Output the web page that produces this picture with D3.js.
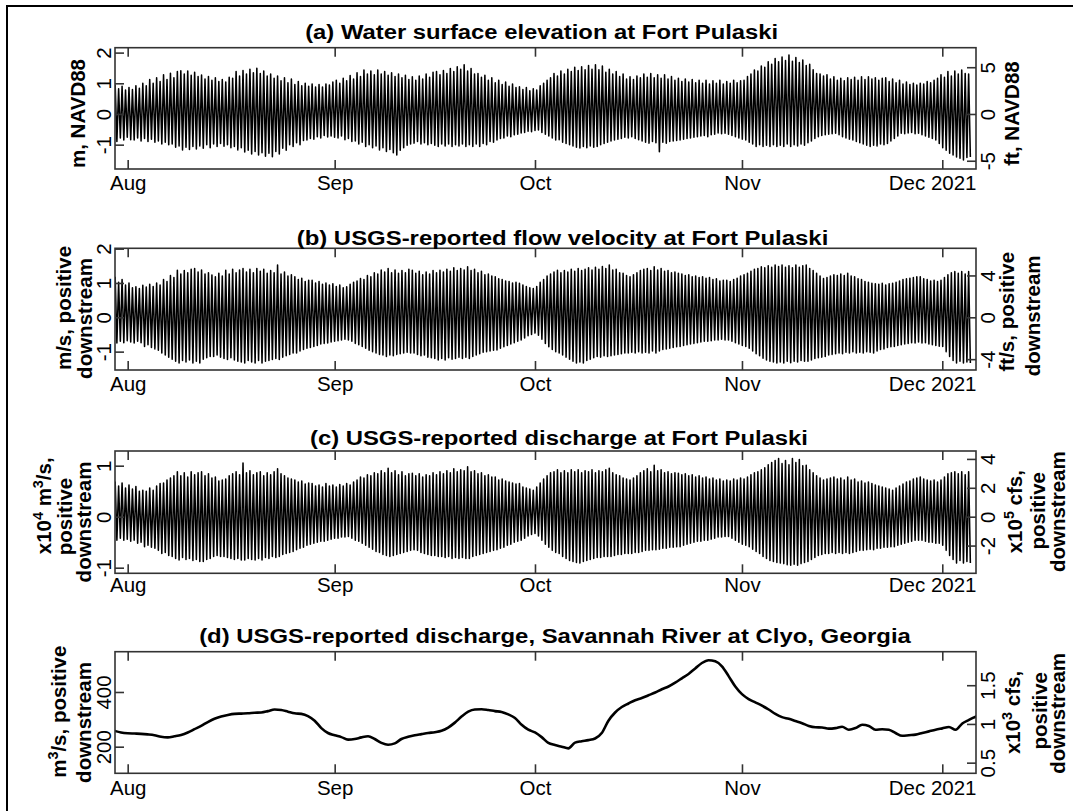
<!DOCTYPE html>
<html>
<head>
<meta charset="utf-8">
<script src="https://cdn.jsdelivr.net/npm/d3@7"></script>
<style>
  body { margin: 0; background: #fff; }
  svg { display: block; font-family: "Liberation Sans", Arial, sans-serif; }
</style>
</head>
<body>
<svg id="chart" width="1073" height="811"></svg>
<script>
// ---- time axis ----
const monthTickDates = ["2021-08-01", "2021-09-01", "2021-10-01", "2021-11-01", "2021-12-01"];
const monthTickLabels = ["Aug", "Sep", "Oct", "Nov", "Dec 2021"];

// ---- tidal records at Fort Pulaski: one high and one low per tidal cycle ----
const tideStart = "2021-07-30T03:00:00Z";
const tideCycleHours = 12.42;

// (a) water surface elevation, m NAVD88
const elevHigh = [
  0.95, 0.82, 0.90, 0.78, 0.86, 0.80, 0.92, 0.84, 1.00, 0.92,
  1.12, 1.00, 1.18, 1.06, 1.28, 1.12, 1.33, 1.18, 1.38, 1.41,
  1.30, 1.40, 1.26, 1.36, 1.22, 1.27, 1.14, 1.22, 1.10, 1.18,
  1.06, 1.12, 1.04, 1.20, 1.16, 1.38, 1.24, 1.42, 1.30, 1.46,
  1.34, 1.49, 1.32, 1.40, 1.24, 1.30, 1.16, 1.24, 1.08, 1.18,
  1.02, 1.14, 0.96, 1.06, 0.92, 1.00, 0.90, 0.98, 0.88, 0.96,
  0.88, 0.98, 0.94, 1.04, 1.10, 1.00, 1.16, 1.08, 1.25, 1.14,
  1.34, 1.22, 1.43, 1.30, 1.40, 1.28, 1.43, 1.30, 1.38, 1.26,
  1.34, 1.22, 1.30, 1.18, 1.26, 1.12, 1.21, 1.10, 1.24, 1.14,
  1.30, 1.20, 1.36, 1.38, 1.28, 1.42, 1.32, 1.48, 1.38, 1.54,
  1.46, 1.60, 1.40, 1.48, 1.30, 1.32, 1.20, 1.26, 1.10, 1.18,
  1.02, 1.10, 0.96, 1.04, 0.90, 0.98, 0.86, 0.89, 0.80, 0.86,
  0.76, 0.82, 0.78, 0.92, 1.00, 1.10, 1.18, 1.32, 1.24, 1.40,
  1.30, 1.46, 1.38, 1.52, 1.42, 1.54, 1.44, 1.58, 1.46, 1.60,
  1.44, 1.56, 1.36, 1.46, 1.30, 1.38, 1.22, 1.30, 1.14, 1.21,
  1.12, 1.24, 1.18, 1.30, 1.20, 1.32, 1.18, 1.28, 1.16, 1.28,
  1.14, 1.22, 1.10, 1.16, 1.06, 1.14, 1.04, 1.12, 1.02, 1.10,
  1.00, 1.10, 0.98, 1.08, 1.00, 1.10, 0.98, 1.06, 1.00, 1.10,
  1.02, 1.08, 1.10, 1.22, 1.30, 1.43, 1.40, 1.56, 1.52, 1.70,
  1.62, 1.81, 1.70, 1.86, 1.74, 1.92, 1.72, 1.84, 1.68, 1.76,
  1.58, 1.62, 1.44, 1.32, 1.30, 1.24, 1.28, 1.14, 1.21, 1.10,
  1.16, 1.08, 1.18, 1.12, 1.20, 1.10, 1.21, 1.12, 1.21, 1.14,
  1.18, 1.10, 1.16, 1.18, 1.06, 1.14, 1.02, 1.10, 0.98, 1.04,
  0.96, 1.00, 0.94, 1.00, 0.98, 1.06, 1.02, 1.10, 1.16, 1.28,
  1.20, 1.38, 1.24, 1.40, 1.30, 1.43, 1.32, 1.30
];
const elevLow = [
  -0.90, -0.78, -0.85, -0.76, -0.84, -0.85, -0.78, -0.88, -0.80, -0.90,
  -0.82, -0.92, -0.88, -0.98, -0.92, -1.00, -0.98, -1.08, -1.04, -1.17,
  -1.08, -1.16, -1.06, -1.14, -1.04, -1.12, -1.00, -1.10, -0.98, -1.06,
  -0.96, -1.05, -1.00, -1.10, -1.06, -1.17, -1.10, -1.24, -1.18, -1.30,
  -1.22, -1.34, -1.26, -1.38, -1.28, -1.39, -1.22, -1.30, -1.12, -1.18,
  -1.00, -1.06, -0.94, -1.00, -0.86, -0.85, -0.80, -0.82, -0.74, -0.78,
  -0.70, -0.75, -0.72, -0.76, -0.78, -0.72, -0.84, -0.80, -0.90, -0.88,
  -0.98, -0.92, -1.06, -1.00, -1.10, -1.04, -1.17, -1.10, -1.22, -1.16,
  -1.26, -1.34, -1.18, -1.10, -1.02, -0.98, -0.95, -0.90, -0.98, -0.94,
  -1.00, -0.96, -1.02, -1.06, -0.98, -1.04, -0.98, -1.06, -1.00, -1.04,
  -0.98, -1.06, -1.00, -1.06, -0.98, -1.06, -0.96, -1.00, -0.90, -0.92,
  -0.85, -0.80, -0.78, -0.72, -0.74, -0.68, -0.66, -0.62, -0.60, -0.56,
  -0.58, -0.54, -0.52, -0.60, -0.66, -0.72, -0.78, -0.85, -0.84, -0.92,
  -0.96, -1.00, -1.04, -1.08, -1.11, -1.06, -1.10, -1.04, -1.08, -1.06,
  -1.00, -0.96, -0.92, -0.88, -0.85, -0.82, -0.80, -0.76, -0.78, -0.74,
  -0.80, -0.84, -0.88, -0.92, -0.95, -0.90, -0.94, -1.23, -0.92, -0.95,
  -0.90, -0.88, -0.86, -0.85, -0.82, -0.80, -0.78, -0.76, -0.74, -0.72,
  -0.70, -0.74, -0.68, -0.66, -0.62, -0.64, -0.63, -0.66, -0.70, -0.74,
  -0.78, -0.82, -0.85, -0.92, -0.98, -1.06, -1.00, -1.06, -1.02, -1.06,
  -1.00, -1.06, -1.02, -1.06, -0.98, -1.06, -1.00, -1.04, -0.98, -1.02,
  -0.94, -0.88, -0.80, -0.74, -0.70, -0.68, -0.66, -0.64, -0.63, -0.68,
  -0.74, -0.78, -0.82, -0.85, -0.90, -0.94, -0.98, -1.02, -1.06, -1.02,
  -1.04, -0.98, -1.00, -0.96, -0.88, -0.80, -0.72, -0.63, -0.64, -0.62,
  -0.60, -0.64, -0.63, -0.68, -0.72, -0.76, -0.80, -0.85, -0.96, -1.10,
  -1.18, -1.28, -1.34, -1.40, -1.44, -1.50, -1.42, -1.40
];

// (b) flow velocity, m/s, positive downstream
const velHigh = [
  1.18, 1.02, 1.10, 0.94, 1.00, 0.86, 0.89, 0.84, 0.93, 0.88,
  0.96, 0.90, 1.00, 0.94, 1.10, 1.04, 1.22, 1.16, 1.37, 1.26,
  1.36, 1.30, 1.40, 1.42, 1.32, 1.38, 1.26, 1.30, 1.23, 1.18,
  1.28, 1.20, 1.37, 1.26, 1.40, 1.30, 1.38, 1.42, 1.32, 1.40,
  1.30, 1.42, 1.34, 1.40, 1.28, 1.36, 1.30, 1.52, 1.26, 1.32,
  1.20, 1.24, 1.18, 1.10, 1.14, 1.04, 1.08, 1.08, 1.00, 1.04,
  0.96, 1.00, 0.94, 0.98, 0.90, 0.94, 0.86, 0.89, 0.96, 1.02,
  1.06, 1.13, 1.10, 1.22, 1.18, 1.30, 1.26, 1.38, 1.32, 1.42,
  1.30, 1.38, 1.28, 1.36, 1.30, 1.40, 1.37, 1.28, 1.34, 1.24,
  1.32, 1.26, 1.36, 1.30, 1.37, 1.32, 1.40, 1.34, 1.44, 1.36,
  1.42, 1.38, 1.47, 1.36, 1.40, 1.30, 1.34, 1.24, 1.26, 1.20,
  1.18, 1.12, 1.10, 1.06, 1.04, 1.00, 1.02, 0.99, 0.94, 0.90,
  0.86, 0.84, 0.90, 1.02, 1.10, 1.20, 1.26, 1.32, 1.37, 1.30,
  1.36, 1.32, 1.40, 1.34, 1.42, 1.36, 1.40, 1.44, 1.38, 1.46,
  1.40, 1.48, 1.42, 1.52, 1.38, 1.40, 1.30, 1.28, 1.22, 1.18,
  1.24, 1.30, 1.36, 1.40, 1.42, 1.36, 1.47, 1.38, 1.42, 1.34,
  1.36, 1.30, 1.32, 1.28, 1.26, 1.22, 1.24, 1.18, 1.20, 1.16,
  1.18, 1.14, 1.16, 1.10, 1.12, 1.06, 1.08, 1.08, 1.04, 1.10,
  1.14, 1.20, 1.24, 1.28, 1.34, 1.40, 1.42, 1.47, 1.44, 1.50,
  1.46, 1.52, 1.48, 1.52, 1.46, 1.50, 1.44, 1.52, 1.46, 1.50,
  1.52, 1.42, 1.36, 1.28, 1.20, 1.13, 1.16, 1.20, 1.24, 1.22,
  1.26, 1.22, 1.28, 1.20, 1.18, 1.12, 1.10, 1.04, 1.02, 0.99,
  0.98, 0.96, 0.99, 0.94, 0.98, 0.99, 1.02, 1.06, 1.10, 1.12,
  1.14, 1.16, 1.18, 1.18, 1.12, 1.10, 1.06, 1.08, 1.04, 1.08,
  1.16, 1.24, 1.30, 1.33, 1.28, 1.33, 1.26, 1.33
];
const velLow = [
  -0.75, -0.70, -0.74, -0.68, -0.72, -0.75, -0.70, -0.74, -0.85, -0.80,
  -0.88, -0.92, -0.96, -1.04, -1.10, -1.16, -1.22, -1.28, -1.33, -1.26,
  -1.30, -1.24, -1.33, -1.28, -1.33, -1.22, -1.18, -1.14, -1.14, -1.10,
  -1.16, -1.20, -1.23, -1.18, -1.24, -1.28, -1.30, -1.33, -1.26, -1.30,
  -1.33, -1.26, -1.33, -1.28, -1.26, -1.23, -1.20, -1.23, -1.16, -1.12,
  -1.08, -1.04, -1.04, -0.98, -0.94, -0.90, -0.88, -0.85, -0.82, -0.78,
  -0.76, -0.75, -0.72, -0.70, -0.68, -0.66, -0.64, -0.66, -0.70, -0.76,
  -0.80, -0.85, -0.90, -0.96, -1.00, -1.04, -1.08, -1.10, -1.14, -1.10,
  -1.12, -1.08, -1.06, -1.04, -1.02, -1.04, -1.04, -1.08, -1.12, -1.10,
  -1.16, -1.18, -1.20, -1.24, -1.20, -1.24, -1.18, -1.22, -1.20, -1.16,
  -1.20, -1.16, -1.20, -1.14, -1.10, -1.06, -1.02, -1.00, -0.98, -0.96,
  -0.95, -0.90, -0.86, -0.82, -0.78, -0.74, -0.70, -0.66, -0.60, -0.54,
  -0.50, -0.46, -0.52, -0.64, -0.76, -0.86, -0.94, -1.00, -1.04, -1.10,
  -1.16, -1.22, -1.28, -1.33, -1.30, -1.33, -1.26, -1.22, -1.18, -1.14,
  -1.16, -1.12, -1.14, -1.12, -1.10, -1.08, -1.06, -1.04, -1.04, -1.02,
  -1.04, -1.00, -1.04, -1.02, -1.04, -0.98, -1.04, -0.98, -0.94, -0.92,
  -0.90, -0.88, -0.86, -0.85, -0.82, -0.80, -0.78, -0.76, -0.74, -0.72,
  -0.70, -0.70, -0.68, -0.66, -0.66, -0.64, -0.66, -0.66, -0.70, -0.74,
  -0.78, -0.82, -0.85, -0.90, -0.98, -1.06, -1.12, -1.19, -1.24, -1.28,
  -1.30, -1.33, -1.30, -1.33, -1.28, -1.32, -1.28, -1.30, -1.26, -1.28,
  -1.28, -1.24, -1.20, -1.18, -1.16, -1.14, -1.10, -1.08, -1.06, -1.04,
  -1.06, -1.02, -1.04, -1.00, -1.04, -1.02, -1.04, -1.00, -1.02, -1.04,
  -0.98, -0.94, -0.92, -0.88, -0.86, -0.85, -0.82, -0.80, -0.78, -0.76,
  -0.74, -0.75, -0.72, -0.75, -0.74, -0.78, -0.80, -0.82, -0.84, -0.85,
  -1.00, -1.14, -1.26, -1.33, -1.28, -1.33, -1.30, -1.33
];

// (c) discharge, x10^4 m^3/s, positive downstream
const flowHigh = [
  0.69, 0.60, 0.66, 0.56, 0.62, 0.54, 0.59, 0.50, 0.52, 0.50,
  0.56, 0.52, 0.60, 0.65, 0.66, 0.72, 0.76, 0.80, 0.88, 0.80,
  0.86, 0.78, 0.88, 0.82, 0.86, 0.88, 0.80, 0.84, 0.76, 0.78,
  0.70, 0.72, 0.74, 0.80, 0.84, 0.88, 0.82, 1.05, 0.86, 0.90,
  0.82, 0.86, 0.88, 0.80, 0.86, 0.82, 0.88, 0.94, 0.84, 0.80,
  0.76, 0.74, 0.72, 0.68, 0.70, 0.64, 0.66, 0.65, 0.60, 0.62,
  0.58, 0.65, 0.60, 0.62, 0.58, 0.63, 0.60, 0.65, 0.62, 0.68,
  0.72, 0.78, 0.76, 0.82, 0.80, 0.86, 0.84, 0.90, 0.86, 0.95,
  0.86, 0.90, 0.82, 0.88, 0.80, 0.84, 0.85, 0.80, 0.84, 0.78,
  0.82, 0.80, 0.86, 0.82, 0.88, 0.84, 0.90, 0.86, 0.94, 0.88,
  0.92, 0.90, 0.98, 0.88, 0.90, 0.84, 0.86, 0.80, 0.82, 0.78,
  0.78, 0.72, 0.74, 0.70, 0.68, 0.66, 0.64, 0.65, 0.58, 0.56,
  0.54, 0.52, 0.58, 0.66, 0.74, 0.80, 0.86, 0.88, 0.92, 0.86,
  0.90, 0.86, 0.92, 0.88, 0.92, 0.86, 0.90, 0.88, 0.92, 0.86,
  0.90, 0.88, 0.92, 0.95, 0.86, 0.82, 0.80, 0.76, 0.74, 0.72,
  0.76, 0.80, 0.86, 0.90, 0.94, 0.88, 1.01, 0.90, 0.92, 0.86,
  0.88, 0.84, 0.86, 0.85, 0.82, 0.84, 0.80, 0.82, 0.78, 0.80,
  0.76, 0.78, 0.74, 0.76, 0.72, 0.74, 0.70, 0.72, 0.70, 0.74,
  0.72, 0.76, 0.74, 0.78, 0.82, 0.86, 0.88, 0.92, 0.96, 1.02,
  1.06, 1.10, 1.14, 1.04, 1.10, 1.02, 1.14, 1.06, 1.12, 1.00,
  1.01, 0.92, 0.86, 0.80, 0.76, 0.72, 0.74, 0.76, 0.78, 0.74,
  0.76, 0.72, 0.78, 0.72, 0.74, 0.68, 0.70, 0.66, 0.68, 0.65,
  0.62, 0.60, 0.58, 0.56, 0.54, 0.52, 0.56, 0.60, 0.64, 0.68,
  0.70, 0.74, 0.76, 0.78, 0.74, 0.72, 0.70, 0.72, 0.68, 0.72,
  0.78, 0.84, 0.86, 0.88, 0.84, 0.88, 0.82, 0.88
];
const flowLow = [
  -0.46, -0.42, -0.46, -0.44, -0.48, -0.46, -0.52, -0.50, -0.59, -0.56,
  -0.60, -0.62, -0.66, -0.72, -0.70, -0.76, -0.78, -0.82, -0.85, -0.80,
  -0.84, -0.82, -0.86, -0.84, -0.88, -0.88, -0.84, -0.82, -0.78, -0.76,
  -0.78, -0.78, -0.80, -0.82, -0.84, -0.82, -0.85, -0.85, -0.82, -0.84,
  -0.85, -0.82, -0.85, -0.80, -0.82, -0.78, -0.80, -0.78, -0.74, -0.72,
  -0.70, -0.68, -0.65, -0.62, -0.60, -0.56, -0.54, -0.52, -0.50, -0.48,
  -0.48, -0.46, -0.44, -0.42, -0.42, -0.40, -0.40, -0.39, -0.42, -0.46,
  -0.48, -0.52, -0.56, -0.60, -0.64, -0.68, -0.70, -0.74, -0.76, -0.78,
  -0.76, -0.74, -0.72, -0.70, -0.68, -0.66, -0.65, -0.66, -0.70, -0.72,
  -0.74, -0.76, -0.76, -0.78, -0.78, -0.80, -0.78, -0.82, -0.80, -0.82,
  -0.80, -0.82, -0.82, -0.78, -0.76, -0.74, -0.72, -0.70, -0.68, -0.66,
  -0.65, -0.62, -0.60, -0.56, -0.54, -0.50, -0.48, -0.46, -0.42, -0.38,
  -0.35, -0.33, -0.38, -0.46, -0.54, -0.60, -0.66, -0.70, -0.72, -0.78,
  -0.82, -0.86, -0.88, -0.90, -0.91, -0.88, -0.86, -0.84, -0.82, -0.80,
  -0.80, -0.78, -0.78, -0.78, -0.76, -0.74, -0.74, -0.72, -0.72, -0.72,
  -0.70, -0.70, -0.68, -0.66, -0.66, -0.65, -0.65, -0.64, -0.62, -0.62,
  -0.60, -0.60, -0.59, -0.59, -0.56, -0.54, -0.52, -0.50, -0.48, -0.48,
  -0.46, -0.46, -0.44, -0.42, -0.40, -0.40, -0.39, -0.39, -0.42, -0.46,
  -0.50, -0.54, -0.56, -0.59, -0.64, -0.68, -0.72, -0.78, -0.82, -0.86,
  -0.88, -0.90, -0.91, -0.92, -0.94, -0.95, -0.93, -0.95, -0.92, -0.90,
  -0.88, -0.84, -0.80, -0.76, -0.74, -0.72, -0.72, -0.70, -0.72, -0.70,
  -0.72, -0.70, -0.72, -0.70, -0.68, -0.66, -0.66, -0.65, -0.64, -0.65,
  -0.62, -0.62, -0.60, -0.60, -0.59, -0.59, -0.56, -0.54, -0.52, -0.50,
  -0.48, -0.46, -0.46, -0.46, -0.48, -0.50, -0.50, -0.52, -0.52, -0.56,
  -0.66, -0.76, -0.84, -0.91, -0.86, -0.91, -0.88, -0.91
];

// (d) Savannah River at Clyo, daily discharge, m^3/s
const clyoStart = "2021-07-30T00:00:00Z";
const clyoFlow = [
  258, 252, 249, 248, 247, 245, 242, 236, 234, 238,
  243, 252, 264, 276, 290, 302, 310, 316, 320, 321,
  322, 324, 325, 330, 336, 334, 328, 322, 320, 312,
  295, 268, 250, 242, 235, 226, 228, 234, 238, 228,
  214, 207, 212, 228, 236, 242, 246, 250, 253, 258,
  270, 288, 310, 328, 336, 337, 334, 330, 327, 318,
  305, 280, 262, 252, 235, 214, 206, 200, 194, 215,
  220, 224, 230, 250, 295, 325, 345, 358, 370, 378,
  388, 398, 410, 420, 434, 450, 466, 486, 506, 516,
  512, 494, 458, 420, 392, 374, 362, 350, 336, 320,
  308, 302, 294, 286, 276, 271, 270, 266, 268, 273,
  262, 268, 280, 276, 262, 264, 262, 250, 240, 242,
  244, 250, 256, 262, 267, 272, 262, 285, 298, 310,
  322
];

// ---- axis ticks ----
const elevTicksM = [-1, 0, 1, 2];
const elevTicksFt = [-5, 0, 5];
const velTicksMs = [-1, 0, 1, 2];
const velTicksFts = [-4, 0, 4];
const flowTicksM3s = [-1, 0, 1];
const flowTicksCfs = [-2, 0, 2, 4];
const clyoTicksM3s = [200, 400];
const clyoTicksCfs = [0.5, 1, 1.5];

// unit conversions (right axis value -> left axis units)
const FT = 0.3048;
const CFS = 0.0283168;

// ---------------------------------------------------------------
const svg = d3.select("#chart");
const W = 1073, H = 811;
svg.append("rect").attr("width", W).attr("height", H).attr("fill", "#fff");
// page frame (its right and bottom edges fall outside the page)
svg.append("rect")
  .attr("x", 7).attr("y", 6).attr("width", 1075).attr("height", 815)
  .attr("fill", "none").attr("stroke", "#000").attr("stroke-width", 2);

const parseDay = d3.utcParse("%Y-%m-%d");
const tickDates = monthTickDates.map(parseDay);
const x = d3.scaleUtc()
  .domain([Date.UTC(2021, 6, 30, 2, 24), Date.UTC(2021, 11, 6, 1, 12)])
  .range([115, 976]);

function tideSeries(highs, lows) {
  const t0 = Date.parse(tideStart);
  const step = tideCycleHours * 3600e3;
  const out = [];
  highs.forEach((h, k) => {
    out.push({ t: new Date(t0 + k * step), v: h });
    if (k < lows.length) out.push({ t: new Date(t0 + (k + 0.5) * step), v: lows[k] });
  });
  return out;
}
function dailySeries(start, values) {
  const t0 = Date.parse(start);
  return values.map((v, i) => ({ t: new Date(t0 + i * 86400e3), v }));
}

const sup = s => `<tspan baseline-shift="super" font-size="70%">${s}</tspan>`;

const panels = [
  {
    top: 47.7, bottom: 169, domain: [-1.793, 2.16],
    data: tideSeries(elevHigh, elevLow), width: 1.55, curve: d3.curveLinear,
    left: elevTicksM, right: elevTicksFt, toLeft: v => v * FT,
    title: "(a) Water surface elevation at Fort Pulaski", tx: 541.7, ty: 39.3, tw: 473,
    leftTitle: [{ html: "m, NAVD88", x: 78, y: 113.5 }],
    rightTitle: [{ html: "ft, NAVD88", x: 1012, y: 113.5 }],
    xlab: 21
  },
  {
    top: 248.3, bottom: 370, domain: [-1.535, 2.01],
    data: tideSeries(velHigh, velLow), width: 1.55, curve: d3.curveLinear,
    left: velTicksMs, right: velTicksFts, toLeft: v => v * FT,
    title: "(b) USGS-reported flow velocity at Fort Pulaski", tx: 562.5, ty: 245, tw: 531.6,
    leftTitle: [{ html: "m/s, positive", x: 63.3, y: 308 }, { html: "downstream", x: 85, y: 318.5 }],
    rightTitle: [{ html: "ft/s, positive", x: 1006.7, y: 311.7 }, { html: "downstream", x: 1033, y: 315.8 }],
    xlab: 20.7
  },
  {
    top: 451, bottom: 573.3, domain: [-1.11, 1.288],
    data: tideSeries(flowHigh, flowLow), width: 1.55, curve: d3.curveLinear,
    left: flowTicksM3s, right: flowTicksCfs, toLeft: v => v * 1e5 * CFS / 1e4,
    title: "(c) USGS-reported discharge at Fort Pulaski", tx: 559, ty: 445, tw: 498,
    leftTitle: [
      { html: "x10" + sup("4") + " m" + sup("3") + "/s,", x: 43.3, y: 505.8 },
      { html: "positive", x: 65, y: 516.5 },
      { html: "downstream", x: 83.3, y: 522 }
    ],
    rightTitle: [
      { html: "x10" + sup("5") + " cfs,", x: 1015, y: 511.7 },
      { html: "positive", x: 1038, y: 510.8 },
      { html: "downstream", x: 1058, y: 511.7 }
    ],
    xlab: 18.4
  },
  {
    top: 651.7, bottom: 773.3, domain: [102.7, 547.3],
    data: dailySeries(clyoStart, clyoFlow), width: 2.6, curve: d3.curveMonotoneX,
    left: clyoTicksM3s, right: clyoTicksCfs, toLeft: v => v * 1e4 * CFS,
    title: "(d) USGS-reported discharge, Savannah River at Clyo, Georgia", tx: 555, ty: 643.3, tw: 711.7,
    leftTitle: [
      { html: "m" + sup("3") + "/s, positive", x: 58.3, y: 711.7 },
      { html: "downstream", x: 83.3, y: 722.5 }
    ],
    rightTitle: [
      { html: "x10" + sup("3") + " cfs,", x: 1013, y: 712.5 },
      { html: "positive", x: 1040, y: 710.8 },
      { html: "downstream", x: 1058, y: 713.3 }
    ],
    xlab: 21.7
  }
];

const FRAME = "#333";
const TICK_FONT = 20.5;

panels.forEach((p, i) => {
  const y = d3.scaleLinear().domain(p.domain).range([p.bottom, p.top]);
  const g = svg.append("g");
  const clipId = "clip" + i;
  svg.append("clipPath").attr("id", clipId)
    .append("rect").attr("x", 115).attr("y", p.top).attr("width", 976 - 115).attr("height", p.bottom - p.top);

  // series
  g.append("path")
    .datum(p.data)
    .attr("clip-path", `url(#${clipId})`)
    .attr("fill", "none")
    .attr("stroke", "#000")
    .attr("stroke-width", p.width)
    .attr("stroke-linejoin", "round")
    .attr("d", d3.line().x(d => x(d.t)).y(d => y(d.v)).curve(p.curve));

  // frame
  g.append("rect")
    .attr("x", 115).attr("y", p.top).attr("width", 976 - 115).attr("height", p.bottom - p.top)
    .attr("fill", "none").attr("stroke", FRAME).attr("stroke-width", 1.6);

  // bottom axis with month labels
  const xb = g.append("g").attr("transform", `translate(0,${p.bottom})`)
    .call(d3.axisBottom(x).tickValues(tickDates).tickSize(-9).tickPadding(p.xlab - 14.6)
      .tickFormat((d, j) => monthTickLabels[j]));
  // top axis, ticks only
  const xt = g.append("g").attr("transform", `translate(0,${p.top})`)
    .call(d3.axisTop(x).tickValues(tickDates).tickSize(-9).tickFormat(""));
  // left axis
  const yl = g.append("g").attr("transform", "translate(115,0)")
    .call(d3.axisLeft(y).tickValues(p.left).tickSize(-9).tickFormat(d => String(d)));
  // right axis (converted units)
  const yr = g.append("g").attr("transform", "translate(976,0)")
    .call(d3.axisRight(y).tickValues(p.right.map(p.toLeft)).tickSize(-9)
      .tickFormat((d, j) => String(p.right[j])));

  [xb, xt, yl, yr].forEach(a => {
    a.select(".domain").remove();
    a.selectAll(".tick line").attr("stroke", FRAME).attr("stroke-width", 1.6);
    a.selectAll("text").attr("font-size", TICK_FONT).attr("fill", "#000")
      .attr("font-family", '"Liberation Sans", Arial, sans-serif');
  });
  // last month label is pushed to the right edge
  xb.selectAll(".tick").filter((d, j) => j === tickDates.length - 1)
    .select("text").attr("text-anchor", "end").attr("x", 976 - x(tickDates[tickDates.length - 1]));

  // rotated tick labels on the value axes
  yl.selectAll(".tick text")
    .attr("x", null).attr("dy", null)
    .attr("text-anchor", "middle")
    .attr("transform", "translate(-4,0) rotate(-90)");
  yr.selectAll(".tick text")
    .attr("x", null).attr("dy", null)
    .attr("text-anchor", "middle")
    .attr("transform", "translate(19,0) rotate(-90)");

  // panel title
  svg.append("text")
    .attr("x", p.tx).attr("y", p.ty)
    .attr("text-anchor", "middle")
    .attr("font-weight", "bold").attr("font-size", 19.5)
    .attr("textLength", p.tw).attr("lengthAdjust", "spacingAndGlyphs")
    .text(p.title);

  // axis titles
  [...p.leftTitle, ...p.rightTitle].forEach(t => {
    svg.append("text")
      .attr("transform", `translate(${t.x},${t.y}) rotate(-90)`)
      .attr("text-anchor", "middle")
      .attr("dy", "0.36em")
      .attr("font-weight", "bold").attr("font-size", 20.5)
      .html(t.html);
  });
});
</script>
</body>
</html>
